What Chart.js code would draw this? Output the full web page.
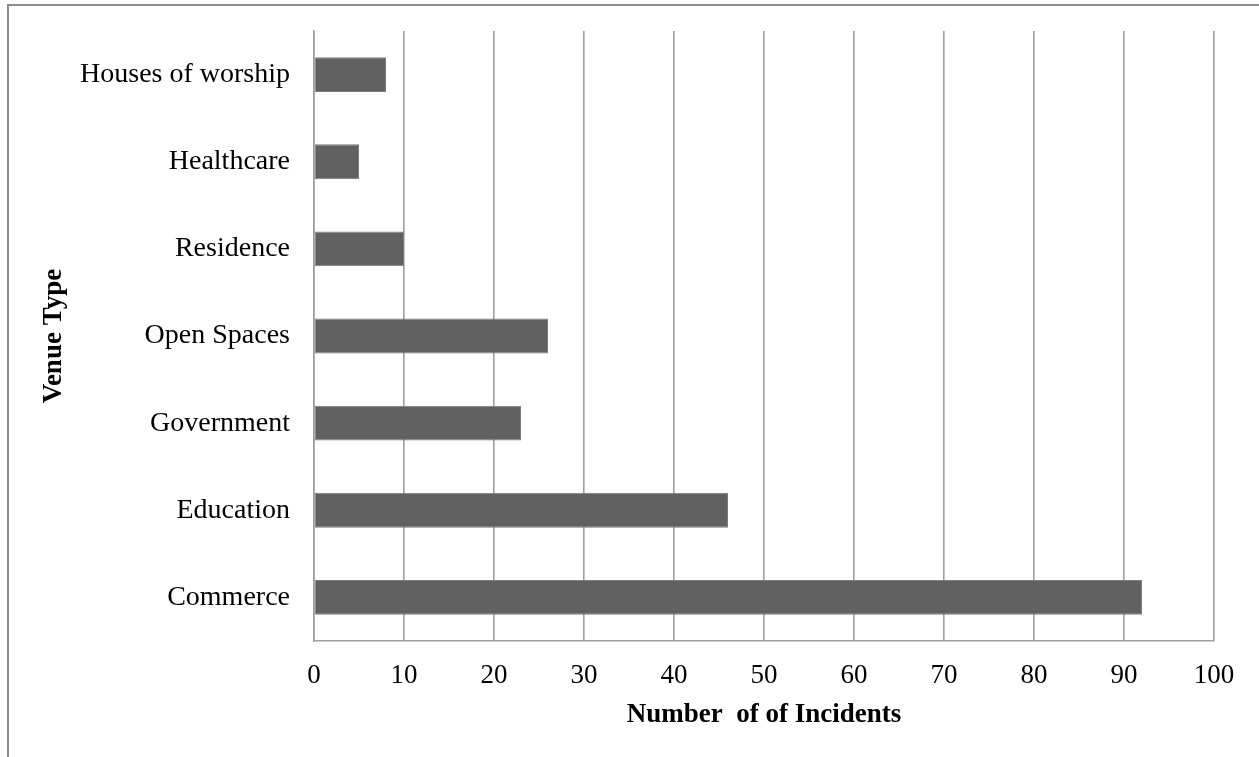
<!DOCTYPE html>
<html>
<head>
<meta charset="utf-8">
<script src="https://cdn.jsdelivr.net/npm/chart.js@4/dist/chart.umd.min.js"></script>
<style>
    html, body { margin: 0; padding: 0; background: #fff; }
    #wrap { position: relative; width: 1259px; height: 757px; overflow: hidden; }
    #frame {
        position: absolute; left: 7px; top: 4px; right: -10px; bottom: -10px;
        border-left: 2px solid #8c8c8c; border-top: 2px solid #8c8c8c;
        pointer-events: none;
    }
    canvas { position: absolute; left: 0; top: 0; }
</style>
</head>
<body>
<div id="wrap">
    <canvas id="chart" width="1259" height="757"></canvas>
    <div id="frame"></div>
</div>
<script>
'use strict';

// values, top to bottom
const venues = ['Houses of worship', 'Healthcare', 'Residence', 'Open Spaces', 'Government', 'Education', 'Commerce'];
const incidents = [8, 5, 10, 26, 23, 46, 92];
const xTicks = [0, 10, 20, 30, 40, 50, 60, 70, 80, 90, 100];

const serif = 'Liberation Serif, Times New Roman, serif';
const gridGray = '#9e9e9e';

const ctx = document.querySelector('#chart').getContext('2d');
const chart = new Chart(ctx, {
    type: 'bar',
    data: {
        labels: venues,
        datasets: [{
            label: 'Number of Incidents',
            data: incidents,
            backgroundColor: '#616161',
            borderColor: '#7d7d7d',
            borderWidth: 1,
            borderSkipped: false,
            categoryPercentage: 1,
            barPercentage: 0.4
        }]
    },
    options: {
        indexAxis: 'y',
        responsive: false,
        animation: false,
        devicePixelRatio: 1,
        layout: {padding: {top: 31, right: 45, left: 0, bottom: 0}},
        plugins: {
            legend: {display: false},
            tooltip: {enabled: false}
        },
        scales: {
            x: {
                min: 0,
                max: 100,
                afterBuildTicks: scale => {
                    scale.ticks = xTicks.map(v => ({value: v}));
                },
                afterFit: scale => { scale.height = 116; },
                grid: {color: gridGray, lineWidth: 1.6, drawTicks: false},
                border: {color: gridGray, width: 1.6},
                ticks: {
                    color: '#000',
                    padding: 19,
                    font: {family: serif, size: 27}
                },
                title: {
                    display: true,
                    text: 'Number  of of Incidents',
                    color: '#000',
                    padding: {top: 0, bottom: 26},
                    font: {family: serif, size: 27, weight: 'bold'}
                }
            },
            y: {
                afterFit: scale => {
                    scale.width = 314;
                    // tick padding would otherwise push the plot top down
                    scale.paddingTop = 0;
                    scale.paddingBottom = 0;
                },
                grid: {display: false, drawTicks: false},
                border: {color: gridGray, width: 1.6},
                ticks: {
                    color: '#000',
                    padding: 24,
                    font: {family: serif, size: 28}
                },
                title: {
                    display: true,
                    text: 'Venue Type',
                    color: '#000',
                    padding: {top: 38, bottom: 0},
                    font: {family: serif, size: 27, weight: 'bold'}
                }
            }
        }
    }
});
</script>
</body>
</html>
